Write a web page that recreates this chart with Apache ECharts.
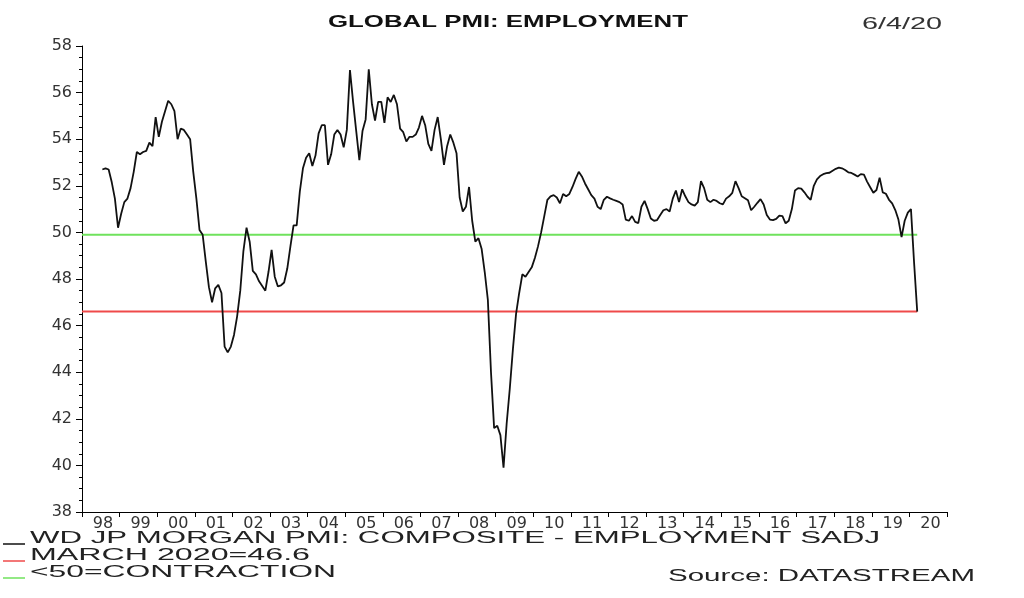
<!DOCTYPE html>
<html>
<head>
<meta charset="utf-8">
<title>Global PMI: Employment</title>
<script src="https://cdn.jsdelivr.net/npm/echarts@6.0.0/dist/echarts.min.js"></script>
<style>
  html, body { margin: 0; padding: 0; background: #fff; }
  #chart { width: 1024px; height: 598px; }
</style>
</head>
<body>
<div id="chart"></div>
<script>
// ---- data ----
const startYear = 1998;
const startMonth = 7; // July 1998, monthly
const employment = [
  // 1998 (Jul-Dec)
  52.7, 52.75, 52.7, 52.15, 51.45, 50.2,
  // 1999
  50.8, 51.3, 51.45, 51.9, 52.6, 53.45, 53.35, 53.45, 53.5, 53.85, 53.7, 54.95,
  // 2000
  54.1, 54.75, 55.2, 55.65, 55.5, 55.2, 54.0, 54.45, 54.4, 54.2, 54.0, 52.6,
  // 2001
  51.45, 50.1, 49.9, 48.75, 47.65, 47.0, 47.6, 47.75, 47.4, 45.1, 44.85, 45.1,
  // 2002
  45.6, 46.4, 47.5, 49.2, 50.2, 49.6, 48.35, 48.2, 47.9, 47.7, 47.5, 48.3,
  // 2003
  49.25, 48.1, 47.68, 47.73, 47.85, 48.45, 49.4, 50.3, 50.3, 51.75, 52.75, 53.2,
  // 2004
  53.4, 52.85, 53.3, 54.25, 54.6, 54.6, 52.9, 53.35, 54.2, 54.4, 54.2, 53.65,
  // 2005
  54.4, 56.97, 55.6, 54.35, 53.1, 54.35, 54.85, 57.0, 55.5, 54.8, 55.6, 55.6,
  // 2006
  54.7, 55.8, 55.6, 55.9, 55.5, 54.45, 54.3, 53.9, 54.1, 54.1, 54.2, 54.5,
  // 2007
  55.0, 54.6, 53.8, 53.5, 54.4, 54.95, 54.0, 52.9, 53.7, 54.2, 53.85, 53.4,
  // 2008
  51.5, 50.9, 51.1, 51.95, 50.5, 49.6, 49.75, 49.3, 48.3, 47.1, 44.0, 41.6,
  // 2009
  41.7, 41.3, 39.9, 41.8, 43.3, 45.0, 46.5, 47.4, 48.2, 48.1, 48.3, 48.5,
  // 2010
  48.9, 49.4, 50.0, 50.7, 51.4, 51.55, 51.6, 51.5, 51.25, 51.65, 51.55, 51.65,
  // 2011
  51.95, 52.3, 52.6, 52.4, 52.1, 51.85, 51.6, 51.45, 51.1, 51.0, 51.4, 51.53,
  // 2012
  51.46, 51.4, 51.35, 51.3, 51.2, 50.55, 50.5, 50.7, 50.45, 50.4, 51.1, 51.35,
  // 2013
  51.0, 50.6, 50.5, 50.53, 50.75, 50.95, 51.0, 50.9, 51.45, 51.8, 51.3, 51.85,
  // 2014
  51.55, 51.3, 51.2, 51.15, 51.3, 52.2, 51.9, 51.4, 51.3, 51.4, 51.35, 51.25,
  // 2015
  51.2, 51.45, 51.55, 51.7, 52.2, 51.9, 51.55, 51.47, 51.38, 50.95, 51.1, 51.27,
  // 2016
  51.43, 51.2, 50.75, 50.55, 50.53, 50.58, 50.72, 50.7, 50.39, 50.5, 51.0, 51.8,
  // 2017
  51.9, 51.88, 51.72, 51.53, 51.4, 52.0, 52.28, 52.42, 52.5, 52.54, 52.56, 52.65,
  // 2018
  52.73, 52.78, 52.75, 52.68, 52.58, 52.55, 52.48, 52.4, 52.5, 52.48, 52.18, 51.94,
  // 2019
  51.7, 51.82, 52.35, 51.72, 51.66, 51.4, 51.25, 50.96, 50.55, 49.8, 50.5, 50.85,
  // 2020 (Jan-Mar)
  51.0, 48.7, 46.6
];
const marchLevel = 46.6;        // MARCH 2020=46.6
const contractionLevel = 49.9;  // <50=CONTRACTION line as drawn
const yearLabels = ['98','99','00','01','02','03','04','05','06','07','08','09',
                    '10','11','12','13','14','15','16','17','18','19','20'];
const yTicks = { min: 38, max: 58, step: 2 };
const xRange = { min: 1998, max: 2021 };

const titleText = 'GLOBAL PMI: EMPLOYMENT';
const dateText = '6/4/20';
const legendTexts = ['WD JP MORGAN PMI: COMPOSITE - EMPLOYMENT SADJ', 'MARCH 2020=46.6', '<50=CONTRACTION'];
const sourceText = 'Source: DATASTREAM';

// ---- build ----
const points = employment.map((v, i) => [startYear + (startMonth - 1 + i + 0.5) / 12, v]);
const firstX = xRange.min;
const lastX = points[points.length - 1][0];

const measureCtx = document.createElement('canvas').getContext('2d');
function fitScale(text, font, width) {
  measureCtx.font = font;
  return width / measureCtx.measureText(text).width;
}
const FONT = '"Liberation Sans", Arial, sans-serif';
function stretchedText(text, x, y, width, size, weight, align, color) {
  const font = (weight ? weight + ' ' : '') + size + 'px ' + FONT;
  return {
    type: 'text', x: x, y: y, scaleX: fitScale(text, font, width), silent: true,
    style: { text: text, font: font, fill: color, align: align, verticalAlign: 'middle' }
  };
}

const lineColors = ['#111111', '#ef4a4a', '#6fe25c'];

const chart = echarts.init(document.getElementById('chart'), null, { renderer: 'canvas' });
chart.setOption({
  animation: false,
  backgroundColor: '#ffffff',
  grid: { left: 82, right: 77, top: 46, bottom: 86 },
  xAxis: {
    type: 'value', min: xRange.min, max: xRange.max, interval: 1,
    axisLine: { show: true, onZero: false, lineStyle: { color: '#000', width: 1 } },
    axisTick: { show: true, length: 5, lineStyle: { color: '#000', width: 1 } },
    splitLine: { show: false },
    axisLabel: {
      formatter: v => yearLabels[Math.round(v - xRange.min)] || '',
      fontFamily: 'DejaVu Sans', fontSize: 16, color: '#333',
      margin: 4, padding: [0, 0, 0, 42]
    }
  },
  yAxis: {
    type: 'value', min: yTicks.min, max: yTicks.max, interval: yTicks.step,
    axisLine: { show: true, lineStyle: { color: '#000', width: 1 } },
    axisTick: { show: true, length: 6, lineStyle: { color: '#000', width: 1 } },
    minorTick: { show: true, splitNumber: 4, length: 3, lineStyle: { color: '#000', width: 1 } },
    splitLine: { show: false },
    axisLabel: {
      fontFamily: 'DejaVu Sans', fontSize: 16, color: '#333',
      margin: 10, padding: [0, 0, 6, 0]
    }
  },
  series: [
    {
      name: 'MARCH 2020=46.6', type: 'line', symbol: 'none', silent: true, z: 2,
      data: [[firstX, marchLevel], [lastX, marchLevel]],
      lineStyle: { color: lineColors[1], width: 2 }
    },
    {
      name: '<50=CONTRACTION', type: 'line', symbol: 'none', silent: true, z: 2,
      data: [[firstX, contractionLevel], [lastX, contractionLevel]],
      lineStyle: { color: lineColors[2], width: 2 }
    },
    {
      name: 'WD JP MORGAN PMI: COMPOSITE - EMPLOYMENT SADJ', type: 'line', symbol: 'none', z: 3,
      data: points,
      lineStyle: { color: lineColors[0], width: 1.8 }
    }
  ],
  graphic: [
    stretchedText(titleText, 508, 22, 360, 17, 'bold', 'center', '#111'),
    stretchedText(dateText, 862, 25, 80, 16, '', 'left', '#333'),
    { type: 'line', silent: true, shape: { x1: 3, y1: 544, x2: 25, y2: 544 }, style: { stroke: lineColors[0], lineWidth: 1.5 } },
    { type: 'line', silent: true, shape: { x1: 3, y1: 561, x2: 25, y2: 561 }, style: { stroke: lineColors[1], lineWidth: 1.5 } },
    { type: 'line', silent: true, shape: { x1: 3, y1: 578, x2: 25, y2: 578 }, style: { stroke: lineColors[2], lineWidth: 1.5 } },
    stretchedText(legendTexts[0], 30, 539, 850, 16, '', 'left', '#222'),
    stretchedText(legendTexts[1], 30, 556, 280, 16, '', 'left', '#222'),
    stretchedText(legendTexts[2], 30, 573, 306, 16, '', 'left', '#222'),
    stretchedText(sourceText, 668, 577, 307, 16, '', 'left', '#222')
  ]
});
</script>
</body>
</html>
